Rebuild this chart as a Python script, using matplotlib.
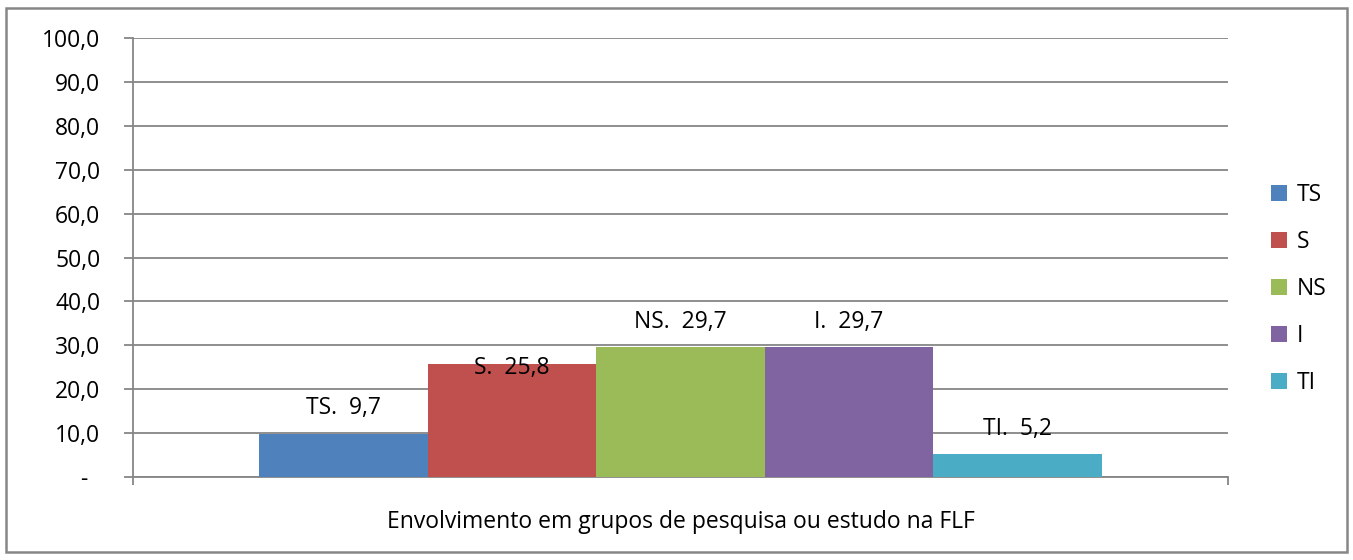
import matplotlib
matplotlib.use("Agg")
import matplotlib.pyplot as plt
from matplotlib.patches import Rectangle
from matplotlib.ticker import FixedLocator

categories = ["Envolvimento em grupos de pesquisa ou estudo na FLF"]
series = ["TS", "S", "NS", "I", "TI"]
values = [9.7, 25.8, 29.7, 29.7, 5.2]
value_labels = ["9,7", "25,8", "29,7", "29,7", "5,2"]
yticks = [0, 10, 20, 30, 40, 50, 60, 70, 80, 90, 100]
ytick_labels = ["-  ", "10,0", "20,0", "30,0", "40,0", "50,0", "60,0", "70,0", "80,0", "90,0", "100,0"]

colors = ["#4F81BD", "#C0504D", "#9BBB59", "#8064A2", "#4BACC6"]
label_offsets = [6.0, -1.0, 5.5, 5.5, 5.8]
grid_col = "#868686"

plt.rcParams["font.family"] = ["Open Sans", "DejaVu Sans"]
fs = 16.5

fig = plt.figure(figsize=(13.53, 5.6), dpi=100)
fig.patches.append(Rectangle((6 / 1353, 1 - 552 / 560), 1341 / 1353, 544 / 560,
                             transform=fig.transFigure, fill=False,
                             edgecolor="#878787", linewidth=1.8, zorder=0))
ax = fig.add_axes([133 / 1353, 1 - 477 / 560, 1095 / 1353, 439 / 560])

n = len(series)
w = 1.0 / (n + 1.5)
for i, (s, v, c) in enumerate(zip(series, values, colors)):
    x = (i - (n - 1) / 2) * w
    ax.bar(x, v, width=w, color=c, label=s, zorder=3)
    ax.text(x, v + label_offsets[i], f"{s}.  {value_labels[i]}", ha="center", va="center",
            fontsize=fs, color="black", zorder=4)

ax.set_xlim(-0.5, 0.5)
ax.set_ylim(0, 100)
ax.yaxis.set_major_locator(FixedLocator(yticks))
ax.set_yticklabels(ytick_labels, fontsize=fs)
ax.grid(axis="y", color=grid_col, linewidth=1.3, zorder=1)
ax.tick_params(axis="y", length=6.5, width=1.3, color=grid_col, pad=17)
ax.set_xticks([-0.5, 0.5])
ax.set_xticklabels(["", ""])
ax.tick_params(axis="x", length=6, width=1.3, color=grid_col)
ax.text(0, -10.3, categories[0], ha="center", va="center", fontsize=fs,
        transform=ax.transData)
for side in ["top", "right"]:
    ax.spines[side].set_visible(False)
for side in ["left", "bottom"]:
    ax.spines[side].set_color(grid_col)
    ax.spines[side].set_linewidth(1.3)

handles, labels = ax.get_legend_handles_labels()
fig.legend(handles, labels, loc="center left", bbox_to_anchor=(1262 / 1353, 1 - 289 / 560),
           frameon=False, fontsize=fs, handlelength=0.7, handleheight=0.7,
           handletextpad=0.4, labelspacing=1.0, borderaxespad=0)

fig.savefig("out.png", dpi=100)
